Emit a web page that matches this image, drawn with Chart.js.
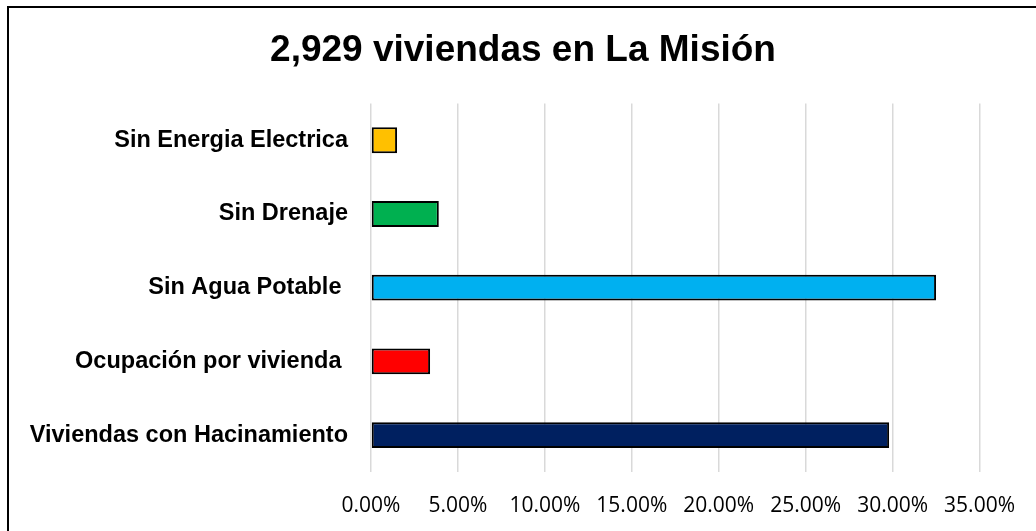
<!DOCTYPE html>
<html>
<head>
<meta charset="utf-8">
<script src="https://cdn.jsdelivr.net/npm/chart.js@4"></script>
<style>
  html, body { margin: 0; padding: 0; background: #fff; overflow: hidden; }
  #wrap { position: relative; width: 1036px; height: 531px; }
  #frame { position: absolute; left: 7px; top: 6px; width: 1100px; height: 600px; border: 2px solid #000; box-sizing: border-box; }
  canvas { position: absolute; left: 0; top: 0; }
</style>
</head>
<body>
<div id="wrap">
  <div id="frame"></div>
  <canvas id="chart" width="1036" height="531"></canvas>
</div>
<script>
const categories = ['Sin Energia Electrica', 'Sin Drenaje', 'Sin Agua Potable ', 'Ocupación por vivienda ', 'Viviendas con Hacinamiento'];
const percentages = [1.5, 3.9, 32.5, 3.4, 29.8];
const barColors = ['#FFC000', '#00B050', '#00B0F0', '#FF0000', '#002060'];
const xTicks = [0, 5, 10, 15, 20, 25, 30, 35];

// the original chart frame is wider than the picture, so its title sits right of centre
const shiftTitle = {
    id: 'shiftTitle',
    afterLayout: chart => {
        if (chart.titleBlock) chart.titleBlock.right += 66;
    }
};

const ctx = document.getElementById('chart').getContext('2d');
new Chart(ctx, {
    type: 'bar',
    data: {
        labels: categories,
        datasets: [{
            data: percentages,
            backgroundColor: barColors,
            borderColor: '#000',
            borderWidth: 2,
            borderSkipped: false,
            categoryPercentage: 0.35,
            barPercentage: 1
        }]
    },
    plugins: [shiftTitle],
    options: {
        indexAxis: 'y',
        responsive: false,
        animation: false,
        layout: { padding: { left: 0, right: 56, top: 0, bottom: 0 } },
        plugins: {
            legend: { display: false },
            tooltip: { enabled: false },
            title: {
                display: true,
                text: '2,929 viviendas en La Misión',
                color: '#000',
                font: { family: 'Liberation Sans, Arial', size: 37, weight: 'bold' },
                padding: { top: 29, bottom: 30 }
            }
        },
        scales: {
            x: {
                min: 0,
                max: 35,
                afterBuildTicks: scale => {
                    scale.ticks = xTicks.map(v => ({ value: v }));
                },
                afterFit: scale => { scale.height = 59; },
                grid: { color: '#d9d9d9', lineWidth: 1.5, drawTicks: false },
                border: { display: false },
                ticks: {
                    padding: 21,
                    color: '#000',
                    font: { family: 'Open Sans', size: 21 },
                    callback: v => v.toFixed(2) + '%'
                }
            },
            y: {
                afterFit: scale => { scale.width = 371; },
                grid: { display: false, drawTicks: false },
                border: { display: false },
                ticks: {
                    padding: 23,
                    color: '#000',
                    font: { family: 'Liberation Sans, Arial', size: 23.5, weight: 'bold' }
                }
            }
        }
    }
});
</script>
</body>
</html>
